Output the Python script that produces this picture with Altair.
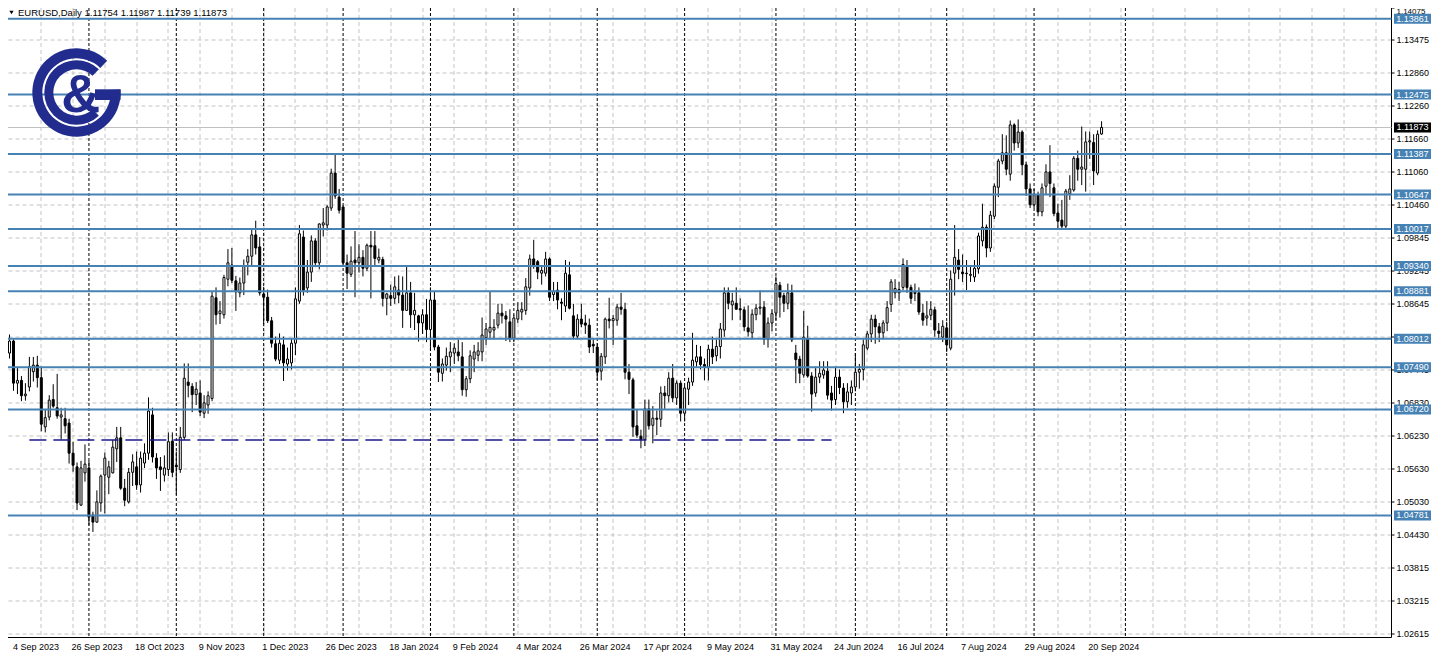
import math
import altair as alt
import pandas as pd

# ---------------- data ----------------
tick_labels = ["4 Sep 2023", "26 Sep 2023", "18 Oct 2023", "9 Nov 2023", "1 Dec 2023",
               "26 Dec 2023", "18 Jan 2024", "9 Feb 2024", "4 Mar 2024", "26 Mar 2024",
               "17 Apr 2024", "9 May 2024", "31 May 2024", "24 Jun 2024", "16 Jul 2024",
               "7 Aug 2024", "29 Aug 2024", "20 Sep 2024"]

opens = [
    1.0775, 1.0797, 1.0720, 1.0725, 1.0697, 1.0713, 1.0741, 1.0753, 1.0730, 1.0640,
    1.0658, 1.0690, 1.0675, 1.0658, 1.0655, 1.0647, 1.0592, 1.0567, 1.0497, 1.0556,
    1.0565, 1.0479, 1.0466, 1.0501, 1.0552, 1.0548, 1.0556, 1.0600, 1.0620, 1.0528,
    1.0503, 1.0557, 1.0567, 1.0534, 1.0574, 1.0592, 1.0662, 1.0583, 1.0567, 1.0552,
    1.0562, 1.0614, 1.0570, 1.0562, 1.0621, 1.0722, 1.0714, 1.0699, 1.0702, 1.0665,
    1.0680, 1.0692, 1.0876, 1.0847, 1.0845, 1.0910, 1.0936, 1.0907, 1.0885, 1.0903,
    1.0941, 1.0952, 1.0991, 1.0969, 1.0883, 1.0877, 1.0834, 1.0792, 1.0762, 1.0790,
    1.0755, 1.0757, 1.0793, 1.0870, 1.0987, 1.0894, 1.0923, 1.0980, 1.0940, 1.1009,
    1.1009, 1.1040, 1.1104, 1.1060, 1.1042, 1.0940, 1.0919, 1.0945, 1.0940, 1.0950,
    1.0930, 1.0972, 1.0971, 1.0945, 1.0946, 1.0875, 1.0880, 1.0875, 1.0890, 1.0881,
    1.0853, 1.0885, 1.0845, 1.0843, 1.0830, 1.0845, 1.0818, 1.0872, 1.0786, 1.0738,
    1.0753, 1.0768, 1.0775, 1.0777, 1.0768, 1.0708, 1.0728, 1.0764, 1.0771, 1.0777,
    1.0803, 1.0813, 1.0817, 1.0826, 1.0848, 1.0843, 1.0832, 1.0802, 1.0837, 1.0850,
    1.0853, 1.0894, 1.0947, 1.0942, 1.0921, 1.0921, 1.0947, 1.0882, 1.0890, 1.0868,
    1.0861, 1.0918, 1.0843, 1.0806, 1.0837, 1.0830, 1.0826, 1.0791, 1.0786, 1.0742,
    1.0768, 1.0837, 1.0834, 1.0835, 1.0859, 1.0855, 1.0740, 1.0726, 1.0642, 1.0623,
    1.0617, 1.0673, 1.0643, 1.0656, 1.0654, 1.0702, 1.0697, 1.0729, 1.0693, 1.0720,
    1.0665, 1.0709, 1.0722, 1.0759, 1.0768, 1.0754, 1.0749, 1.0782, 1.0770, 1.0787,
    1.0817, 1.0885, 1.0863, 1.0866, 1.0856, 1.0854, 1.0821, 1.0812, 1.0845, 1.0857,
    1.0859, 1.0800, 1.0830, 1.0848, 1.0899, 1.0880, 1.0866, 1.0885, 1.0775, 1.0764,
    1.0735, 1.0801, 1.0733, 1.0702, 1.0731, 1.0735, 1.0742, 1.0702, 1.0690, 1.0731,
    1.0711, 1.0686, 1.0702, 1.0713, 1.0740, 1.0745, 1.0784, 1.0810, 1.0837, 1.0823,
    1.0812, 1.0830, 1.0864, 1.0885, 1.0885, 1.0895, 1.0935, 1.0895, 1.0884, 1.0885,
    1.0848, 1.0839, 1.0844, 1.0854, 1.0815, 1.0804, 1.0821, 1.0784, 1.0921, 1.0945,
    1.0923, 1.0920, 1.0917, 1.0914, 1.0929, 1.0980, 1.1005, 1.0967, 1.1025, 1.1078,
    1.1126, 1.1141, 1.1102, 1.1192, 1.1159, 1.1179, 1.1119, 1.1075, 1.1046, 1.1064,
    1.1033, 1.1080, 1.1106, 1.1077, 1.1031, 1.1018, 1.1007, 1.1066, 1.1073, 1.1131,
    1.1111, 1.1111, 1.1161, 1.1160, 1.1104, 1.11754,
]
highs = [
    1.0809, 1.0800, 1.0748, 1.0733, 1.0720, 1.0768, 1.0768, 1.0770, 1.0750, 1.0672,
    1.0698, 1.0718, 1.0737, 1.0675, 1.0675, 1.0655, 1.0613, 1.0575, 1.0578, 1.0608,
    1.0578, 1.0485, 1.0524, 1.0553, 1.0593, 1.0578, 1.0616, 1.0640, 1.0640, 1.0545,
    1.0565, 1.0590, 1.0595, 1.0595, 1.0610, 1.0694, 1.0675, 1.0592, 1.0585, 1.0588,
    1.0630, 1.0630, 1.0595, 1.0640, 1.0756, 1.0756, 1.0720, 1.0722, 1.0725, 1.0698,
    1.0705, 1.0888, 1.0895, 1.0870, 1.0918, 1.0965, 1.0967, 1.0916, 1.0913, 1.0946,
    1.0965, 1.1003, 1.1017, 1.0987, 1.0896, 1.0891, 1.0841, 1.0805, 1.0811, 1.0805,
    1.0785, 1.0802, 1.0895, 1.1009, 1.0999, 1.0945, 1.0990, 1.0985, 1.1012, 1.1040,
    1.1045, 1.1112, 1.1139, 1.1075, 1.1045, 1.0955, 1.0970, 1.0998, 1.0974, 1.0963,
    1.0975, 1.0998, 1.0998, 1.0966, 1.0951, 1.0885, 1.0900, 1.0915, 1.0917, 1.0915,
    1.0933, 1.0905, 1.0885, 1.0845, 1.0855, 1.0874, 1.0895, 1.0888, 1.0790, 1.0765,
    1.0785, 1.0795, 1.0793, 1.0800, 1.0795, 1.0733, 1.0780, 1.0790, 1.0795, 1.0840,
    1.0830, 1.0888, 1.0837, 1.0865, 1.0865, 1.0852, 1.0855, 1.0845, 1.0868, 1.0868,
    1.0912, 1.0955, 1.0982, 1.0945, 1.0935, 1.0960, 1.0950, 1.0905, 1.0905, 1.0875,
    1.0945, 1.0942, 1.0865, 1.0846, 1.0865, 1.0845, 1.0838, 1.0802, 1.0793, 1.0775,
    1.0840, 1.0876, 1.0845, 1.0865, 1.0885, 1.0867, 1.0755, 1.0730, 1.0672, 1.0635,
    1.0690, 1.0690, 1.0678, 1.0670, 1.0714, 1.0715, 1.0740, 1.0755, 1.0725, 1.0725,
    1.0715, 1.0730, 1.0812, 1.0790, 1.0788, 1.0765, 1.0790, 1.0805, 1.0800, 1.0830,
    1.0895, 1.0895, 1.0885, 1.0895, 1.0875, 1.0860, 1.0862, 1.0855, 1.0865, 1.0890,
    1.0870, 1.0840, 1.0855, 1.0915, 1.0905, 1.0885, 1.0902, 1.0900, 1.0790, 1.0770,
    1.0852, 1.0825, 1.0740, 1.0750, 1.0760, 1.0760, 1.0760, 1.0715, 1.0750, 1.0745,
    1.0720, 1.0720, 1.0725, 1.0775, 1.0755, 1.0800, 1.0815, 1.0845, 1.0845, 1.0830,
    1.0835, 1.0870, 1.0910, 1.0910, 1.0905, 1.0948, 1.0945, 1.0900, 1.0902, 1.0895,
    1.0865, 1.0870, 1.0870, 1.0860, 1.0830, 1.0835, 1.0832, 1.0926, 1.1009, 1.0965,
    1.0955, 1.0945, 1.0935, 1.0945, 1.0995, 1.1048, 1.1010, 1.1035, 1.1085, 1.1130,
    1.1175, 1.1173, 1.1200, 1.1195, 1.1202, 1.1182, 1.1125, 1.1085, 1.1075, 1.1070,
    1.1085, 1.1120, 1.1155, 1.1085, 1.1048, 1.1055, 1.1075, 1.1100, 1.1135, 1.1145,
    1.1189, 1.1180, 1.1180, 1.1175, 1.1182, 1.11987,
]
lows = [
    1.0765, 1.0706, 1.0700, 1.0687, 1.0688, 1.0705, 1.0723, 1.0712, 1.0632, 1.0630,
    1.0652, 1.0675, 1.0655, 1.0617, 1.0628, 1.0573, 1.0558, 1.0488, 1.0496, 1.0540,
    1.0460, 1.0448, 1.0465, 1.0485, 1.0482, 1.0517, 1.0555, 1.0576, 1.0525, 1.0495,
    1.0500, 1.0532, 1.0525, 1.0520, 1.0565, 1.0580, 1.0575, 1.0545, 1.0523, 1.0540,
    1.0550, 1.0548, 1.0516, 1.0556, 1.0616, 1.0694, 1.0667, 1.0680, 1.0660, 1.0656,
    1.0664, 1.0687, 1.0827, 1.0828, 1.0838, 1.0897, 1.0903, 1.0852, 1.0877, 1.0881,
    1.0917, 1.0935, 1.0955, 1.0880, 1.0828, 1.0830, 1.0785, 1.0760, 1.0755, 1.0724,
    1.0743, 1.0745, 1.0771, 1.0865, 1.0880, 1.0885, 1.0905, 1.0932, 1.0928, 1.0988,
    1.0999, 1.1035, 1.1057, 1.1030, 1.0937, 1.0892, 1.0914, 1.0877, 1.0922, 1.0915,
    1.0925, 1.0875, 1.0935, 1.0939, 1.0860, 1.0844, 1.0861, 1.0865, 1.0866, 1.0821,
    1.0852, 1.0821, 1.0817, 1.0796, 1.0810, 1.0795, 1.0780, 1.0780, 1.0722, 1.0723,
    1.0743, 1.0740, 1.0755, 1.0760, 1.0697, 1.0695, 1.0720, 1.0740, 1.0760, 1.0760,
    1.0790, 1.0800, 1.0800, 1.0820, 1.0829, 1.0797, 1.0795, 1.0795, 1.0830, 1.0835,
    1.0845, 1.0880, 1.0929, 1.0910, 1.0900, 1.0915, 1.0870, 1.0870, 1.0855, 1.0835,
    1.0850, 1.0855, 1.0800, 1.0800, 1.0822, 1.0810, 1.0775, 1.0775, 1.0725, 1.0725,
    1.0755, 1.0820, 1.0790, 1.0825, 1.0845, 1.0727, 1.0700, 1.0622, 1.0620, 1.0601,
    1.0605, 1.0635, 1.0610, 1.0625, 1.0640, 1.0673, 1.0685, 1.0685, 1.0680, 1.0650,
    1.0650, 1.0680, 1.0715, 1.0750, 1.0745, 1.0725, 1.0725, 1.0755, 1.0760, 1.0765,
    1.0805, 1.0855, 1.0835, 1.0855, 1.0835, 1.0815, 1.0805, 1.0800, 1.0835, 1.0845,
    1.0790, 1.0785, 1.0815, 1.0835, 1.0840, 1.0850, 1.0855, 1.0795, 1.0720, 1.0720,
    1.0730, 1.0730, 1.0668, 1.0695, 1.0720, 1.0728, 1.0690, 1.0670, 1.0680, 1.0700,
    1.0665, 1.0675, 1.0680, 1.0705, 1.0710, 1.0725, 1.0780, 1.0795, 1.0792, 1.0795,
    1.0800, 1.0815, 1.0850, 1.0875, 1.0870, 1.0890, 1.0885, 1.0865, 1.0870, 1.0845,
    1.0825, 1.0825, 1.0835, 1.0805, 1.0800, 1.0795, 1.0777, 1.0780, 1.0880, 1.0910,
    1.0905, 1.0890, 1.0905, 1.0905, 1.0920, 1.0970, 1.0950, 1.0960, 1.1020, 1.1060,
    1.1120, 1.1100, 1.1090, 1.1145, 1.1150, 1.1100, 1.1062, 1.1040, 1.1040, 1.1025,
    1.1025, 1.1065, 1.1060, 1.1025, 1.1003, 1.1002, 1.1000, 1.1055, 1.1070, 1.1090,
    1.1082, 1.1070, 1.1130, 1.1082, 1.1100, 1.11739,
]
closes = [
    1.0797, 1.0720, 1.0725, 1.0697, 1.0700, 1.0750, 1.0753, 1.0730, 1.0645, 1.0657,
    1.0689, 1.0678, 1.0660, 1.0662, 1.0642, 1.0592, 1.0570, 1.0501, 1.0565, 1.0572,
    1.0475, 1.0466, 1.0503, 1.0550, 1.0583, 1.0567, 1.0603, 1.0620, 1.0528, 1.0506,
    1.0557, 1.0576, 1.0534, 1.0583, 1.0592, 1.0669, 1.0585, 1.0565, 1.0562, 1.0565,
    1.0613, 1.0557, 1.0567, 1.0621, 1.0729, 1.0716, 1.0699, 1.0709, 1.0667, 1.0684,
    1.0697, 1.0879, 1.0845, 1.0852, 1.0913, 1.0940, 1.0908, 1.0887, 1.0903, 1.0934,
    1.0952, 1.0991, 1.0967, 1.0885, 1.0877, 1.0834, 1.0793, 1.0764, 1.0793, 1.0757,
    1.0764, 1.0793, 1.0874, 1.0993, 1.0890, 1.0923, 1.0980, 1.0940, 1.1011, 1.1013,
    1.1042, 1.1104, 1.1062, 1.1036, 1.0940, 1.0921, 1.0943, 1.0940, 1.0950, 1.0930,
    1.0972, 1.0969, 1.0948, 1.0950, 1.0875, 1.0883, 1.0875, 1.0896, 1.0881, 1.0853,
    1.0885, 1.0845, 1.0853, 1.0830, 1.0845, 1.0818, 1.0872, 1.0786, 1.0740, 1.0755,
    1.0769, 1.0777, 1.0784, 1.0770, 1.0708, 1.0728, 1.0770, 1.0777, 1.0779, 1.0808,
    1.0819, 1.0822, 1.0822, 1.0848, 1.0843, 1.0837, 1.0802, 1.0839, 1.0853, 1.0855,
    1.0896, 1.0947, 1.0936, 1.0923, 1.0926, 1.0947, 1.0877, 1.0888, 1.0872, 1.0866,
    1.0921, 1.0857, 1.0806, 1.0837, 1.0828, 1.0826, 1.0786, 1.0788, 1.0740, 1.0769,
    1.0837, 1.0834, 1.0838, 1.0859, 1.0855, 1.0740, 1.0727, 1.0640, 1.0625, 1.0617,
    1.0673, 1.0642, 1.0656, 1.0654, 1.0702, 1.0697, 1.0729, 1.0693, 1.0720, 1.0665,
    1.0711, 1.0722, 1.0762, 1.0768, 1.0754, 1.0749, 1.0782, 1.0768, 1.0787, 1.0819,
    1.0885, 1.0866, 1.0870, 1.0855, 1.0854, 1.0823, 1.0814, 1.0846, 1.0857, 1.0859,
    1.0800, 1.0830, 1.0847, 1.0902, 1.0877, 1.0866, 1.0885, 1.0799, 1.0763, 1.0738,
    1.0804, 1.0733, 1.0700, 1.0731, 1.0738, 1.0744, 1.0698, 1.0689, 1.0731, 1.0712,
    1.0686, 1.0704, 1.0713, 1.0740, 1.0745, 1.0790, 1.0810, 1.0837, 1.0823, 1.0812,
    1.0830, 1.0858, 1.0905, 1.0893, 1.0891, 1.0937, 1.0895, 1.0875, 1.0886, 1.0850,
    1.0835, 1.0843, 1.0855, 1.0817, 1.0811, 1.0824, 1.0790, 1.0910, 1.0950, 1.0928,
    1.0920, 1.0921, 1.0919, 1.0930, 1.0989, 1.1005, 1.0967, 1.1027, 1.1080, 1.1126,
    1.1141, 1.1111, 1.1192, 1.1159, 1.1179, 1.1119, 1.1075, 1.1046, 1.1064, 1.1033,
    1.1077, 1.1106, 1.1085, 1.1030, 1.1016, 1.1007, 1.1071, 1.1075, 1.1131, 1.1111,
    1.1115, 1.1161, 1.1163, 1.1108, 1.1175, 1.11873,
]

levels = [1.13861, 1.12475, 1.11387, 1.10647, 1.10017, 1.09340, 1.08881,
          1.08012, 1.07490, 1.06720, 1.04781]
month_start_bars = [20, 42, 64, 84, 106, 127, 148, 170, 193, 213, 236, 258, 281]
y_tick_values = [1.14056, 1.13475, 1.12860, 1.12260, 1.11660, 1.11060, 1.10460, 1.09845,
                 1.09245, 1.08645, 1.08045, 1.07445, 1.06830, 1.06230, 1.05630,
                 1.05030, 1.04430, 1.03815, 1.03215, 1.02615]
dashed_price = [1.0616]
dashed_from_bar = [5]
dashed_to_bar = [207]

symbol = "EURUSD,Daily"

# ---------------- chart ----------------
N = len(closes)
candles = pd.DataFrame({"idx": list(range(N)), "open": opens, "high": highs,
                        "low": lows, "close": closes})
last_price = closes[-1]

W, H = 1383.5, 629.5
xs = alt.Scale(domain=[0.875, 0.875 + W / 4.0], nice=False, zero=False)
ys = alt.Scale(domain=[1.14057 - H / 5471.0, 1.14057], nice=False, zero=False)

FONT = "Liberation Sans"
GRID = "#c4c4c4"
BLUE = "#4682b4"
NAVY = "#212c8e"
TOP_TEST = "datum.value > 1.1404"

arr = "[" + ",".join("'" + s + "'" for s in tick_labels) + "]"
x_label_expr = (f"datum.value < 4 ? {arr}[0] : ((datum.value % 16 == 0 && datum.value / 16 < "
                f"{len(tick_labels)}) ? {arr}[datum.value / 16] : '')")
x_values = [1.25] + list(range(8, 345, 8))

x_axis = alt.Axis(
    values=x_values, tickCount=500, labelExpr=x_label_expr, title=None, translate=0,
    grid=True, gridColor=GRID, gridDash=[4, 3], gridWidth=1,
    gridOpacity={"condition": {"test": "datum.value < 4", "value": 0}, "value": 1},
    ticks=False, domain=True, domainColor="black", domainWidth=1,
    labelAlign="left", labelBaseline="top", labelOffset=-1.5, labelPadding=5,
    labelFont=FONT, labelFontSize=9, labelColor="black",
    labelOverlap=False, labelFlush=False,
)
y_axis = alt.Axis(
    orient="right", values=y_tick_values, tickCount=500, title=None, translate=0,
    labelExpr=f"{TOP_TEST} ? '1.14075' : format(datum.value, '.5f')",
    grid=True, gridColor=GRID, gridDash=[4, 3], gridWidth=1,
    gridOpacity={"condition": {"test": TOP_TEST, "value": 0}, "value": 1},
    ticks=True, tickSize=3, tickColor="black", domain=True, domainColor="black",
    labelBaseline={"condition": {"test": TOP_TEST, "value": "top"}, "value": "middle"},
    labelFontSize={"condition": {"test": TOP_TEST, "value": 8}, "value": 9},
    labelOffset={"condition": {"test": TOP_TEST, "value": -0.5}, "value": 0},
    labelPadding=2, labelFont=FONT, labelColor="black",
    labelOverlap=False, labelFlush=False,
)

wicks = alt.Chart(candles).mark_rule(color="black", strokeWidth=1).encode(
    x=alt.X("idx:Q", scale=xs, axis=x_axis),
    y=alt.Y("low:Q", scale=ys, axis=y_axis),
    y2="high:Q",
)
bodies = alt.Chart(candles).mark_bar(width=2, stroke="black", strokeWidth=1).encode(
    x=alt.X("idx:Q", scale=xs),
    y=alt.Y("open:Q", scale=ys),
    y2="close:Q",
    fill=alt.condition("datum.close >= datum.open", alt.value("white"), alt.value("black")),
)

sep_df = pd.DataFrame({"idx": month_start_bars})
separators = alt.Chart(sep_df).mark_rule(color="black", strokeWidth=1, strokeDash=[3, 2]).encode(
    x=alt.X("idx:Q", scale=xs)
)

price_df = pd.DataFrame({"price": [last_price]})
price_line = alt.Chart(price_df).mark_rule(color="#c0c0c0", strokeWidth=1).encode(
    y=alt.Y("price:Q", scale=ys)
)

lv_df = pd.DataFrame({"price": levels})
level_lines = alt.Chart(lv_df).mark_rule(color=BLUE, strokeWidth=2).encode(
    y=alt.Y("price:Q", scale=ys)
)
BOX = "M-1,-0.27H1V0.27H-1Z"
BOX_X = 1404.5
BOX_SIZE = 37 * 37
level_boxes = alt.Chart(lv_df).mark_point(shape=BOX, filled=True, size=BOX_SIZE, color=BLUE,
                                          opacity=1, strokeWidth=0).encode(
    y=alt.Y("price:Q", scale=ys), x=alt.value(BOX_X)
)
level_text = alt.Chart(lv_df).mark_text(color="white", font=FONT, fontSize=9, align="center",
                                        baseline="middle").encode(
    y=alt.Y("price:Q", scale=ys), x=alt.value(BOX_X), text=alt.Text("price:Q", format=".5f")
)
price_box = alt.Chart(price_df).mark_point(shape=BOX, filled=True, size=BOX_SIZE, color="black",
                                           opacity=1, strokeWidth=0).encode(
    y=alt.Y("price:Q", scale=ys), x=alt.value(BOX_X)
)
price_text = alt.Chart(price_df).mark_text(color="white", font=FONT, fontSize=9, align="center",
                                           baseline="middle").encode(
    y=alt.Y("price:Q", scale=ys), x=alt.value(BOX_X), text=alt.Text("price:Q", format=".5f")
)

dash_df = pd.DataFrame({"a": dashed_from_bar, "b": dashed_to_bar, "price": dashed_price})
dashed = alt.Chart(dash_df).mark_rule(color="#1a1a8c", strokeWidth=1.5, strokeDash=[17, 7]).encode(
    x=alt.X("a:Q", scale=xs), x2="b:Q", y=alt.Y("price:Q", scale=ys)
)

header_df = pd.DataFrame({"t": [f"{symbol}  {opens[-1]:.5f} {highs[-1]:.5f} {lows[-1]:.5f} {closes[-1]:.5f}"]})
header = alt.Chart(header_df).mark_text(align="left", baseline="top", font=FONT, fontSize=9.5,
                                        color="black").encode(
    x=alt.value(10), y=alt.value(0), text="t:N"
)
tri = alt.Chart(header_df).mark_point(shape="triangle-down", filled=True, size=18, color="black",
                                      opacity=1).encode(x=alt.value(3.5), y=alt.value(4.5))

one = pd.DataFrame({"k": [0]})
CX, CY = 68.5, 84.5
outer_ring = alt.Chart(one).mark_arc(radius=44.2, radius2=34.2, theta=math.radians(86),
                                     theta2=math.radians(360 + 44), color=NAVY).encode(
    x=alt.value(CX), y=alt.value(CY))
inner_ring = alt.Chart(one).mark_arc(radius=32.2, radius2=23.2, theta=math.radians(136),
                                     theta2=math.radians(360 + 44), color=NAVY).encode(
    x=alt.value(CX), y=alt.value(CY))
g_bar = alt.Chart(one).mark_rect(color=NAVY).encode(
    x=alt.value(87), x2=alt.value(112.5), y=alt.value(81.3), y2=alt.value(92))
amp = alt.Chart(one).mark_text(text="&", font=FONT, fontWeight="bold", fontSize=54, color=NAVY,
                               align="center", baseline="alphabetic").encode(
    x=alt.value(72.8), y=alt.value(103.7))

chart = alt.layer(
    separators, price_line, wicks, bodies, level_lines, dashed,
    level_boxes, level_text, price_box, price_text,
    outer_ring, inner_ring, g_bar, amp, header, tri,
).properties(
    width=W, height=H,
    autosize=alt.AutoSizeParams(type="none"),
    padding={"left": 0, "top": 0, "right": 39.5, "bottom": 22},
    background="white",
).configure_view(strokeWidth=0)

chart.save("out.html", embed_options={"renderer": "svg", "actions": False})
